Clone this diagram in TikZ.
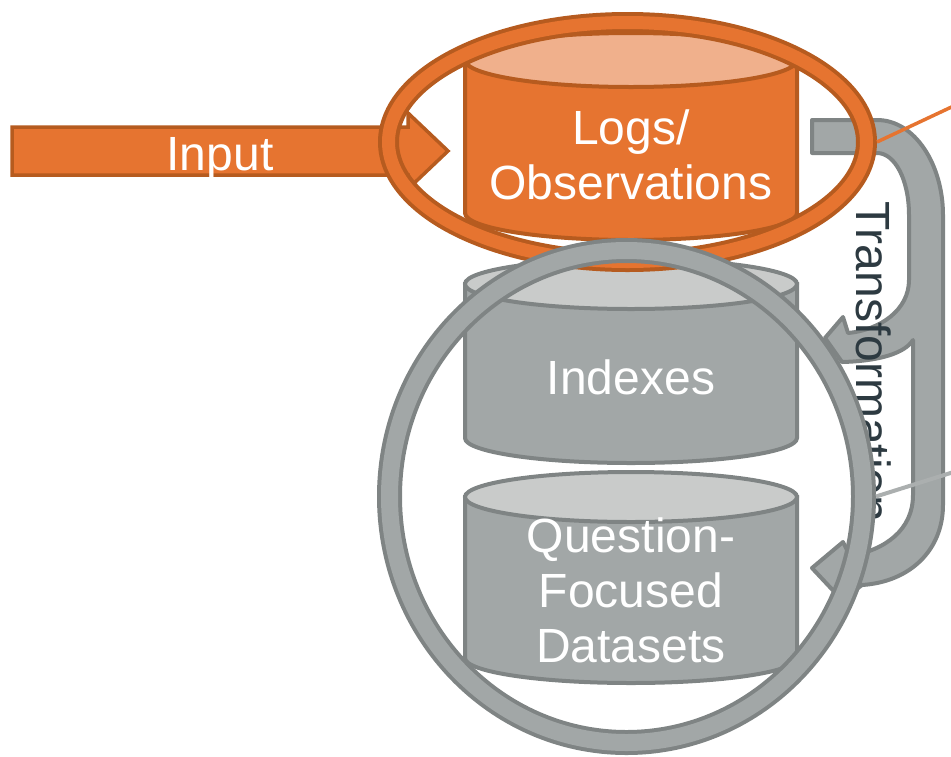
\documentclass[tikz,border=0pt]{standalone}
\usepackage{fontspec}
\setmainfont{Liberation Sans}
\usetikzlibrary{shapes.geometric}

\definecolor{orabody}{HTML}{E67430}
\definecolor{oraedge}{HTML}{B65B1F}
\definecolor{oralid}{HTML}{F0B08C}
\definecolor{grybody}{HTML}{A2A7A7}
\definecolor{gryedge}{HTML}{7F8484}
\definecolor{grylid}{HTML}{C9CBCA}
\definecolor{slatetext}{HTML}{2D3A41}
\definecolor{grynote}{HTML}{ABAFAF}

\begin{document}
\begin{tikzpicture}[
    x=1pt,
    y=-1pt,
    celltext/.style={
        text=white,
        align=center,
        inner sep=0pt,
        font=\fontsize{48}{55}\selectfont
    },
    ringline/.style={
        ellipse,
        line width=4pt,
        inner sep=0pt
    },
    bendarrow/.style={
        fill=grybody,
        draw=gryedge,
        line width=4pt,
        line join=round
    },
    inputshape/.style={
        fill=orabody,
        draw=oraedge,
        line width=3.5pt
    }
]

\useasboundingbox (0,0) rectangle (951,756);

\filldraw[bendarrow]
    (812,120) -- (877,120)
    .. controls (915,120) and (943,165) .. (943,215)
    -- (943,505)
    .. controls (943,550) and (910,582) .. (862,585)
    -- (842,600) -- (812,568) -- (843,542) -- (850,556)
    .. controls (885,550) and (913,530) .. (913,495)
    -- (913,340)
    .. controls (905,353) and (880,361) .. (842,362)
    -- (825,338) -- (843,317) -- (848,333)
    .. controls (880,330) and (909,310) .. (909,280)
    -- (909,215)
    .. controls (909,180) and (895,153) .. (877,153)
    -- (812,153) -- cycle;

\node[rotate=-90, anchor=west, inner sep=0pt, text=slatetext,
    font=\fontsize{48}{55}\selectfont] (transtext) at (874,201)
{Transformation};

\filldraw[inputshape] (12,127) -- (408,127) -- (408,113) -- (448,151)
    -- (408,189) -- (408,175) -- (12,175) -- cycle;

\node[celltext, anchor=base] (inputtext) at (220,170) {Input};

\foreach \ytop/\ybot/\ry/\tone in {60/213/27/ora, 284/438/25/gry, 497/658/25/gry}{
    \filldraw[fill=\tone body, draw=\tone edge, line width=4pt]
        (465,\ytop) -- (465,\ybot)
        arc[start angle=180, end angle=0, x radius=166, y radius=\ry]
        -- (797,\ytop) -- cycle;
    \filldraw[fill=\tone lid, draw=\tone edge, line width=4pt]
        (631,\ytop) ellipse[x radius=166, y radius=\ry];
}

\node[celltext] (obstext) at (631,155) {Logs/\\Observations};
\node[celltext, anchor=base] (idxtext) at (631,394) {Indexes};
\node[celltext] (qfdtext) at (631,590) {Question-\\Focused\\Datasets};

\node[ringline, draw=oraedge, double=orabody, double distance=13pt,
    minimum width=478, minimum height=239, outer sep=10.5pt]
    (obsring) at (627.5,142) {};
\node[ringline, draw=gryedge, double=grybody, double distance=17pt,
    minimum width=474, minimum height=492, outer sep=12.5pt]
    (dataring) at (626.5,496.5) {};

\coordinate (obsnote) at (960,103);
\coordinate (datanote) at (960,470);

\draw[orabody, line width=3.5pt] (obsring.east) -- (obsnote);
\draw[grynote, line width=4pt] (dataring.east) -- (datanote);

\end{tikzpicture}
\end{document}
